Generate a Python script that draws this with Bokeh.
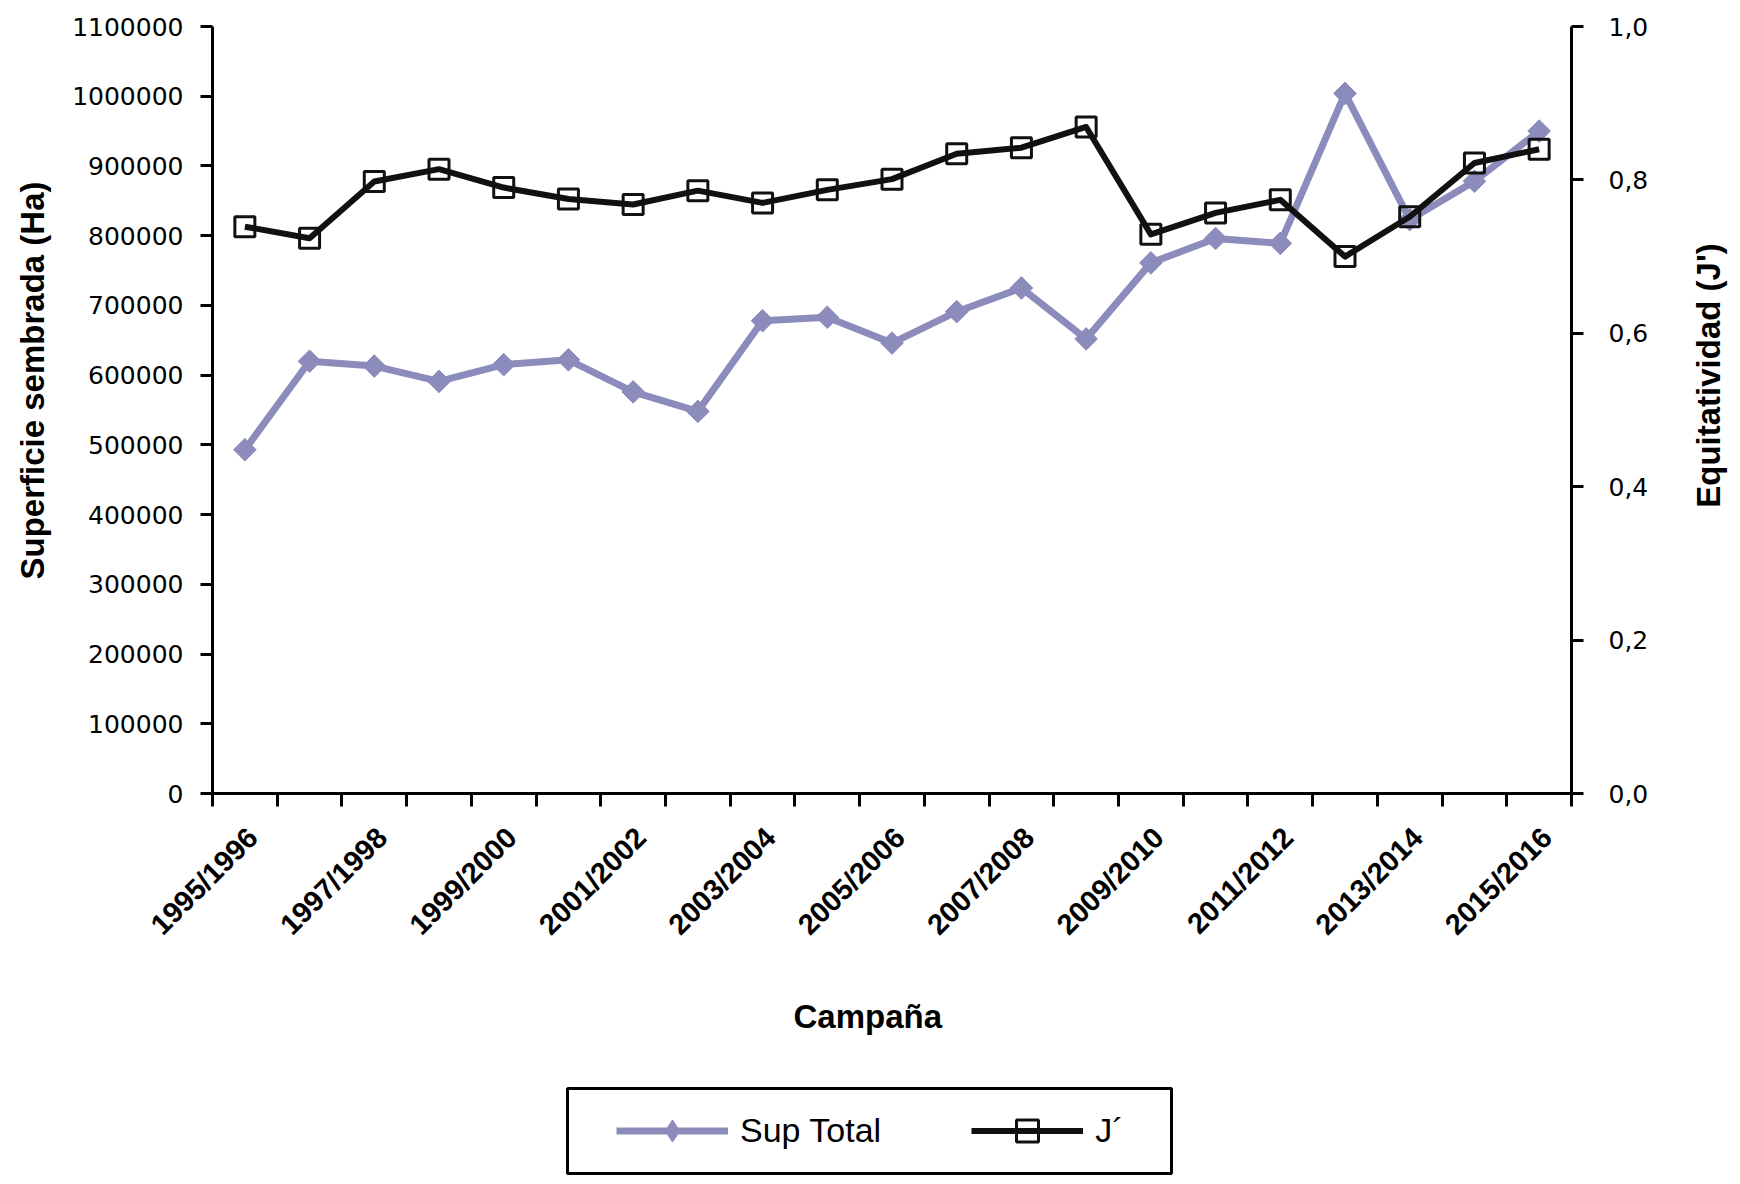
import math
from bokeh.plotting import figure
from bokeh.layouts import column, row
from bokeh.models import (Range1d, LinearAxis, FixedTicker, CustomJSTickFormatter,
                          NumeralTickFormatter, Legend, LegendItem, Title, BoxAnnotation,
                          Label, ColumnDataSource)
from bokeh.embed import file_html
from bokeh.resources import INLINE

campaigns = ["1995/1996", "1996/1997", "1997/1998", "1998/1999", "1999/2000", "2000/2001",
             "2001/2002", "2002/2003", "2003/2004", "2004/2005", "2005/2006", "2006/2007",
             "2007/2008", "2008/2009", "2009/2010", "2010/2011", "2011/2012", "2012/2013",
             "2013/2014", "2014/2015", "2015/2016"]
sup_total = [493000, 620000, 613000, 591000, 615000, 622000, 576000, 548000, 678000, 683000,
             646000, 691000, 725000, 652000, 761000, 796000, 789000, 1004000, 823000, 878000,
             950000]
j_prime = [0.739, 0.724, 0.798, 0.814, 0.790, 0.775, 0.768, 0.786, 0.770, 0.787, 0.801,
           0.834, 0.842, 0.869, 0.729, 0.757, 0.774, 0.700, 0.752, 0.822, 0.840]
left_ticks = [i * 100000 for i in range(12)]
right_ticks = [0.0, 0.2, 0.4, 0.6, 0.8, 1.0]

PURPLE = "#8C8CBC"
BLACK = "#111111"
TFONT = "Liberation Sans"

xs = [i + 0.5 for i in range(len(campaigns))]
src = ColumnDataSource(dict(x=xs, sup=sup_total, j=j_prime, cat=campaigns))

W = 1732
WL = 64            # left-title strip
WR = 80            # right-title strip
WP = W - WL - WR   # main figure width
H1 = 1080
H2 = 96
FL, FR, FT, FB = 212, 1571, 26, 793   # frame edges (page px)


def strip(width):
    f = figure(width=width, height=H1, output_backend="svg", toolbar_location=None,
               x_range=Range1d(0, 1), y_range=Range1d(0, 1),
               x_axis_location=None, y_axis_location=None,
               min_border_left=0, min_border_right=0, min_border_top=FT,
               min_border_bottom=H1 - FB)
    f.xgrid.visible = False
    f.ygrid.visible = False
    f.outline_line_color = None
    f.background_fill_color = "white"
    f.border_fill_color = "white"
    return f


p = figure(width=WP, height=H1, output_backend="svg", toolbar_location=None,
           x_range=Range1d(0, len(campaigns)), y_range=Range1d(0, 1100000),
           min_border_left=FL - WL, min_border_right=WL + WP - FR, min_border_top=FT,
           min_border_bottom=H1 - FB)
p.extra_y_ranges = {"j": Range1d(0, 1.0)}
p.xgrid.visible = False
p.ygrid.visible = False
p.outline_line_color = None
p.background_fill_color = "white"
p.border_fill_color = "white"


def style_y(ax, standoff):
    ax.major_label_text_font = "DejaVu Sans"
    ax.major_label_text_font_size = "25px"
    ax.major_label_text_color = "black"
    ax.major_tick_in = 0
    ax.major_tick_out = 12
    ax.major_label_standoff = standoff
    ax.axis_line_width = 3
    ax.major_tick_line_width = 3
    ax.axis_line_color = "black"
    ax.major_tick_line_color = "black"


# left axis
ya = p.yaxis[0]
ya.ticker = FixedTicker(ticks=left_ticks, minor_ticks=[])
ya.formatter = NumeralTickFormatter(format="0")
style_y(ya, 17)

# right axis
ra = LinearAxis(y_range_name="j")
ra.ticker = FixedTicker(ticks=right_ticks, minor_ticks=[])
ra.formatter = CustomJSTickFormatter(code="return tick.toFixed(1).replace('.', ',');")
style_y(ra, 25)
p.add_layout(ra, "right")

# bottom axis
xa = p.xaxis[0]
xa.ticker = FixedTicker(ticks=[i + 0.62 for i in range(0, len(campaigns), 2)],
                        minor_ticks=list(range(len(campaigns) + 1)))
xa.formatter = CustomJSTickFormatter(args=dict(cats=campaigns),
                                     code="return cats[Math.floor(tick)];")
xa.major_label_orientation = math.pi / 4
xa.major_label_text_font = TFONT
xa.major_label_text_font_style = "bold"
xa.major_label_text_font_size = "29px"
xa.major_label_text_color = "black"
xa.major_tick_in = 0
xa.major_tick_out = 0
xa.minor_tick_in = 0
xa.minor_tick_out = 13
xa.minor_tick_line_width = 3
xa.minor_tick_line_color = "black"
xa.major_label_standoff = 26
xa.axis_line_width = 3
xa.axis_line_color = "black"

# series
l1 = p.line("x", "sup", source=src, line_color=PURPLE, line_width=7, line_join="round")
m1 = p.scatter("x", "sup", source=src, marker="square", size=16, angle=math.pi / 4,
               fill_color=PURPLE, line_color=PURPLE)
l2 = p.line("x", "j", source=src, y_range_name="j", line_color=BLACK, line_width=6,
            line_join="round")
m2 = p.scatter("x", "j", source=src, y_range_name="j", marker="square", size=20,
               fill_color=None, line_color=BLACK, line_width=3)

# x-axis title
p.add_layout(Title(text="Campaña", align="left", offset=581,
                   text_font=TFONT, text_font_style="bold", text_font_size="33px",
                   text_color="black", standoff=80), "below")

# left title strip
lft = strip(WL)
lft.add_layout(Label(x=32, y=FB - 380, x_units="screen", y_units="screen",
                     text="Superficie sembrada (Ha)", angle=math.pi / 2, text_align="center",
                     text_baseline="middle", text_font=TFONT, text_font_style="bold",
                     text_font_size="33px", text_color="black"))

# right title strip
rgt = strip(WR)
rgt.add_layout(Label(x=1708 - (W - WR), y=FB - 375, x_units="screen", y_units="screen",
                     text="Equitatividad (J')", angle=math.pi / 2, text_align="center",
                     text_baseline="middle", text_font=TFONT, text_font_style="bold",
                     text_font_size="33px", text_color="black"))

# legend strip (same data, drawn outside its visible range so only the legend shows)
q = figure(width=W, height=H2, output_backend="svg", toolbar_location=None,
           x_range=Range1d(0, len(campaigns)), y_range=Range1d(2e6, 3e6),
           x_axis_location=None, y_axis_location=None,
           min_border_left=FL, min_border_right=0, min_border_top=0, min_border_bottom=0)
q.extra_y_ranges = {"j": Range1d(2e6, 3e6)}
q.xgrid.visible = False
q.ygrid.visible = False
q.outline_line_color = None
q.background_fill_color = "white"
q.border_fill_color = "white"
k1 = q.line("x", "sup", source=src, line_color=PURPLE, line_width=7)
k2 = q.scatter("x", "sup", source=src, marker="diamond", size=16,
               fill_color=PURPLE, line_color=PURPLE)
k3 = q.line("x", "j", source=src, y_range_name="j", line_color=BLACK, line_width=6)
k4 = q.scatter("x", "j", source=src, y_range_name="j", marker="square", size=20,
               fill_color=None, line_color=BLACK, line_width=3)
q.add_layout(BoxAnnotation(left=567 - FL, right=1171 - FL, top=88, bottom=3,
                           left_units="screen", right_units="screen",
                           top_units="screen", bottom_units="screen",
                           fill_alpha=0, line_color="black", line_alpha=1, line_width=3))
legend = Legend(items=[LegendItem(label="Sup Total", renderers=[k1, k2]),
                       LegendItem(label="J´", renderers=[k3, k4])],
                orientation="horizontal", location=(616 - FL, 18),
                padding=0, margin=0, spacing=90, glyph_width=112, glyph_height=55,
                label_standoff=12, label_text_font=TFONT,
                label_text_font_size="34px", label_text_color="black",
                border_line_alpha=0, background_fill_alpha=0)
q.add_layout(legend, "center")

layout = column(row(lft, p, rgt, spacing=0), q, spacing=0)
open("out.html", "w").write(file_html(layout, INLINE))
